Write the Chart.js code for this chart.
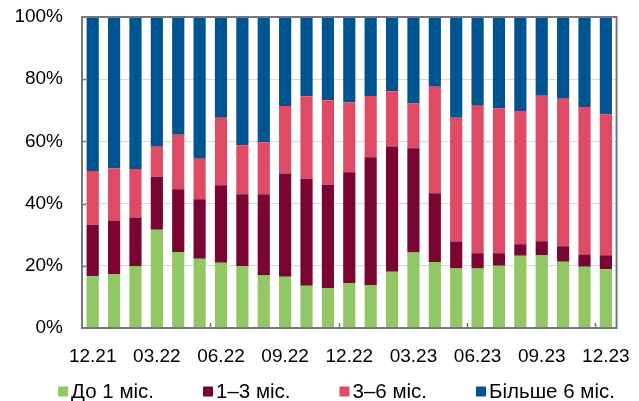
<!DOCTYPE html>
<html>
<head>
<meta charset="utf-8">
<script src="https://cdn.jsdelivr.net/npm/chart.js@4.4.0/dist/chart.umd.min.js"></script>
<style>
  html, body { margin: 0; padding: 0; background: #fff; }
  #wrap { position: relative; width: 639px; height: 401px; }
</style>
</head>
<body>
<div id="wrap"><canvas id="c"></canvas></div>
<script>
// Categories (months)
const categories = ['12.21','01.22','02.22','03.22','04.22','05.22','06.22','07.22','08.22','09.22','10.22','11.22',
  '12.22','01.23','02.23','03.23','04.23','05.23','06.23','07.23','08.23','09.23','10.23','11.23','12.23'];

// Series values (% share)
const upTo1 = [16.6,17.4,19.9,31.6,24.4,22.3,21.0,19.9,16.9,16.5,13.6,12.8,14.5,13.8,18.1,24.3,21.2,19.1,19.1,20.0,23.2,23.5,21.3,19.7,18.9];
const from1to3 = [16.6,17.2,15.6,17.0,20.2,19.1,24.9,23.1,26.1,33.2,34.4,33.3,35.6,41.1,40.3,33.5,22.1,8.7,4.9,4.0,3.7,4.4,5.0,3.9,4.5];
const from3to6 = [17.3,16.7,15.6,9.7,17.5,13.0,21.7,15.8,16.7,21.7,26.5,27.1,22.4,19.7,17.7,14.4,34.3,39.8,47.5,46.6,42.9,46.8,47.4,47.5,45.3];
const over6 = [49.5,48.7,48.9,41.7,37.9,45.6,32.4,41.2,40.3,28.6,25.5,26.8,27.5,25.4,23.9,27.8,22.4,32.4,28.5,29.4,30.2,25.3,26.3,28.9,31.3];

const seriesNames = ['До 1 міс.', '1–3 міс.', '3–6 міс.', 'Більше 6 міс.'];
const seriesColors = ['#93C664', '#7A0432', '#DD4B64', '#00548F'];

// Tick labels
const yTickValues = [0, 20, 40, 60, 80, 100];
const xLabelEvery = 3;

const FONT = '"Liberation Sans", Arial, sans-serif';

const frame = {
  id: 'frame',
  afterDatasetsDraw(chart) {
    const {ctx, chartArea: a, scales} = chart;
    ctx.save();
    ctx.strokeStyle = '#777777';
    ctx.lineWidth = 2;
    ctx.strokeRect(a.left, a.top, a.right - a.left, a.bottom - a.top);
    ctx.lineWidth = 1.5;
    ctx.beginPath();
    [20, 40, 60, 80].forEach(v => {
      const y = Math.round(scales.y.getPixelForValue(v)) + 0.5;
      ctx.moveTo(a.left, y); ctx.lineTo(a.left + 4, y);
    });
    [5.5, 11.5, 17.5, 23.5].forEach(v => {
      const x = Math.round(scales.x.getPixelForValue(v)) + 0.5;
      ctx.moveTo(x, a.bottom); ctx.lineTo(x, a.bottom - 5);
    });
    ctx.stroke();
    ctx.restore();
  }
};

const legend = {
  id: 'customLegend',
  afterDraw(chart) {
    const ctx = chart.ctx;
    ctx.save();
    ctx.font = '20.5px ' + FONT;
    const items = chart.data.datasets.map(d => ({text: d.label, color: d.backgroundColor, w: ctx.measureText(d.label).width}));
    const box = 10, gap = 3, spacing = 49;
    const total = items.reduce((s, it) => s + box + gap + it.w, 0) + spacing * (items.length - 1);
    let x = chart.width / 2 + 17 - total / 2;
    const y = chart.height - 9.5;
    items.forEach(it => {
      ctx.fillStyle = it.color;
      ctx.fillRect(x, y - box / 2, box, box);
      ctx.fillStyle = '#000';
      ctx.textBaseline = 'middle';
      ctx.textAlign = 'left';
      ctx.fillText(it.text, x + box + gap, y + 1);
      x += box + gap + it.w + spacing;
    });
    ctx.restore();
  }
};

const dataSeries = [upTo1, from1to3, from3to6, over6];

new Chart(document.getElementById('c'), {
  type: 'bar',
  data: {
    labels: categories,
    datasets: dataSeries.map((d, i) => ({
      label: seriesNames[i],
      data: d,
      backgroundColor: seriesColors[i],
      borderWidth: 0,
      categoryPercentage: 1,
      barPercentage: 0.57
    }))
  },
  options: {
    responsive: true,
    maintainAspectRatio: false,
    animation: false,
    layout: { padding: { top: 17, right: 17, bottom: 0, left: 0 } },
    plugins: {
      legend: { display: false },
      tooltip: { enabled: false }
    },
    scales: {
      x: {
        stacked: true,
        grid: { display: false },
        border: { display: false },
        ticks: {
          autoSkip: false,
          maxRotation: 0,
          padding: 9,
          color: '#000',
          font: { family: FONT, size: 19 },
          callback: function(v, i) { return i % xLabelEvery === 0 ? categories[i] : ''; }
        },
        afterFit(s) { s.height = 73; }
      },
      y: {
        stacked: true,
        min: 0,
        max: 100,
        afterBuildTicks(s) { s.ticks = yTickValues.map(v => ({value: v})); },
        grid: { color: '#D9D9D9', lineWidth: 1, drawTicks: true, tickLength: 19, tickColor: 'rgba(0,0,0,0)' },
        border: { display: false },
        ticks: {
          padding: 0,
          color: '#000',
          font: { family: FONT, size: 19 },
          callback: v => v + '%'
        },
        afterFit(s) { s.width = 82; }
      }
    }
  },
  plugins: [frame, legend]
});
</script>
</body>
</html>
